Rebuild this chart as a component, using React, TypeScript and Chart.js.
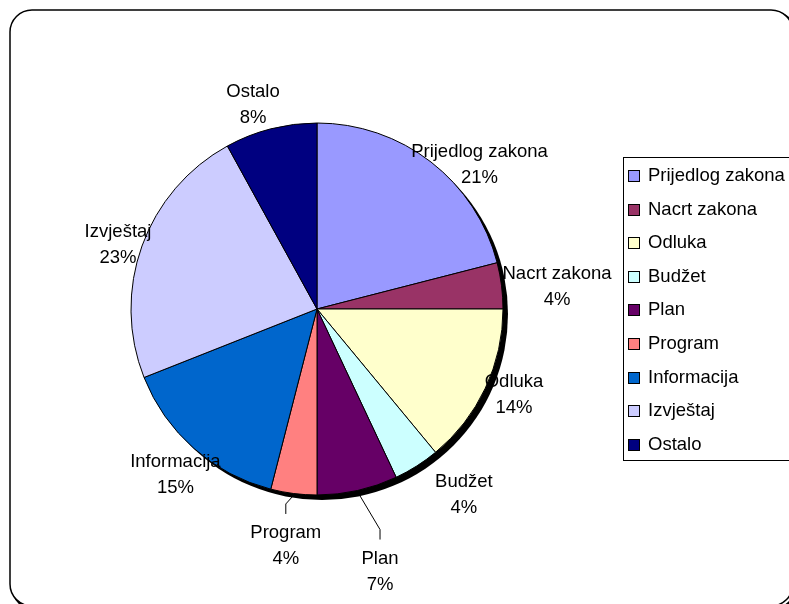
import React, { useEffect, useRef } from "react";
import { Chart, registerables } from "chart.js";

Chart.register(...registerables);

// ---- data ----
const categories = [
  "Prijedlog zakona",
  "Nacrt zakona",
  "Odluka",
  "Budžet",
  "Plan",
  "Program",
  "Informacija",
  "Izvještaj",
  "Ostalo",
];
const shares = [21, 4, 14, 4, 7, 4, 15, 23, 8];
const sliceColors = [
  "#9999FF",
  "#993366",
  "#FFFFCC",
  "#CCFFFF",
  "#660066",
  "#FF8080",
  "#0066CC",
  "#CCCCFF",
  "#000080",
];

// ---- label layout (style only) ----
const labelDistance = [217, 241, 215, 237, 270, 239, 218, 209, 214];
const labelAngleShift = [10.7, 2, -1.6, -5.9, -0.9, 0.3, -0.9, -2, -3];
const labelLeader = [false, false, false, false, true, true, false, false, false];

const FONT = "18.5px 'Liberation Sans', Arial, sans-serif";

function roundRect(ctx: CanvasRenderingContext2D, x: number, y: number, w: number, h: number, r: number) {
  ctx.beginPath();
  ctx.moveTo(x + r, y);
  ctx.lineTo(x + w - r, y);
  ctx.arcTo(x + w, y, x + w, y + r, r);
  ctx.lineTo(x + w, y + h - r);
  ctx.arcTo(x + w, y + h, x + w - r, y + h, r);
  ctx.lineTo(x + r, y + h);
  ctx.arcTo(x, y + h, x, y + h - r, r);
  ctx.lineTo(x, y + r);
  ctx.arcTo(x, y, x + r, y, r);
  ctx.closePath();
}

const decorPlugin = {
  id: "decor",
  beforeDraw(chart: any) {
    const ctx = chart.ctx as CanvasRenderingContext2D;
    ctx.save();
    ctx.fillStyle = "#ffffff";
    ctx.fillRect(0, 0, chart.width, chart.height);
    roundRect(ctx, 13, 13, 783, 596, 22);
    ctx.strokeStyle = "#000";
    ctx.lineWidth = 3;
    ctx.stroke();
    roundRect(ctx, 10, 10, 783, 596, 22);
    ctx.fillStyle = "#fff";
    ctx.fill();
    ctx.lineWidth = 1.5;
    ctx.strokeStyle = "#000";
    ctx.stroke();
    ctx.restore();
  },
  beforeDatasetsDraw(chart: any) {
    const ctx = chart.ctx as CanvasRenderingContext2D;
    const arc = chart.getDatasetMeta(0).data[0];
    if (!arc) return;
    const { x, y, outerRadius } = arc.getProps(["x", "y", "outerRadius"], true);
    ctx.save();
    ctx.beginPath();
    ctx.arc(x + 5, y + 5, outerRadius, 0, Math.PI * 2);
    ctx.fillStyle = "#000";
    ctx.fill();
    ctx.restore();
  },
  afterDatasetsDraw(chart: any) {
    const ctx = chart.ctx as CanvasRenderingContext2D;
    const meta = chart.getDatasetMeta(0);
    const total = shares.reduce((a, b) => a + b, 0);
    ctx.save();
    ctx.font = FONT;
    ctx.fillStyle = "#000";
    ctx.textAlign = "center";
    ctx.textBaseline = "middle";
    meta.data.forEach((el: any, i: number) => {
      const { x, y, startAngle, endAngle, outerRadius } = el.getProps(
        ["x", "y", "startAngle", "endAngle", "outerRadius"],
        true
      );
      const midRaw = (startAngle + endAngle) / 2;
      const mid = midRaw + (labelAngleShift[i] * Math.PI) / 180;
      const lx = x + Math.cos(mid) * labelDistance[i];
      const ly = y + Math.sin(mid) * labelDistance[i];
      const pct = Math.round((shares[i] / total) * 100) + "%";
      ctx.fillText(categories[i], lx, ly - 13);
      ctx.fillText(pct, lx, ly + 13);
      if (labelLeader[i]) {
        const sx = x + Math.cos(midRaw) * (outerRadius + 2);
        const sy = y + Math.sin(midRaw) * (outerRadius + 2);
        const ey = ly - 32;
        ctx.beginPath();
        ctx.moveTo(sx, sy);
        ctx.lineTo(lx, ey - 10);
        ctx.lineTo(lx, ey);
        ctx.strokeStyle = "#000";
        ctx.lineWidth = 1;
        ctx.stroke();
      }
    });
    ctx.restore();
  },
  afterDraw(chart: any) {
    const ctx = chart.ctx as CanvasRenderingContext2D;
    ctx.save();
    ctx.strokeStyle = "#000";
    ctx.lineWidth = 1;
    ctx.strokeRect(623.5, 157.5, 200, 303);
    ctx.font = FONT;
    ctx.textAlign = "left";
    ctx.textBaseline = "middle";
    categories.forEach((c, i) => {
      const cy = 175 + i * 33.6;
      const top = Math.round(cy - 5) + 0.5;
      ctx.fillStyle = sliceColors[i];
      ctx.fillRect(628.5, top, 11, 11);
      ctx.strokeStyle = "#000";
      ctx.strokeRect(628.5, top, 11, 11);
      ctx.fillStyle = "#000";
      ctx.fillText(c, 648, cy + 1);
    });
    ctx.restore();
  },
};

export default function App() {
  const ref = useRef<HTMLCanvasElement | null>(null);
  useEffect(() => {
    if (!ref.current) return;
    const chart = new Chart(ref.current, {
      type: "pie",
      data: {
        labels: categories,
        datasets: [
          {
            data: shares,
            backgroundColor: sliceColors,
            borderColor: "#000",
            borderWidth: 1,
            radius: 186,
          } as any,
        ],
      },
      options: {
        responsive: false,
        animation: false,
        devicePixelRatio: 1,
        layout: { padding: { left: 100, right: 255, top: 100, bottom: 86 } },
        plugins: {
          legend: { display: false },
          tooltip: { enabled: false },
        },
      },
      plugins: [decorPlugin],
    });
    return () => chart.destroy();
  }, []);
  return (
    <div style={{ position: "absolute", left: 0, top: 0, width: 789, height: 604, overflow: "hidden" }}>
      <canvas ref={ref} width={789} height={604} style={{ width: 789, height: 604, display: "block" }} />
    </div>
  );
}
